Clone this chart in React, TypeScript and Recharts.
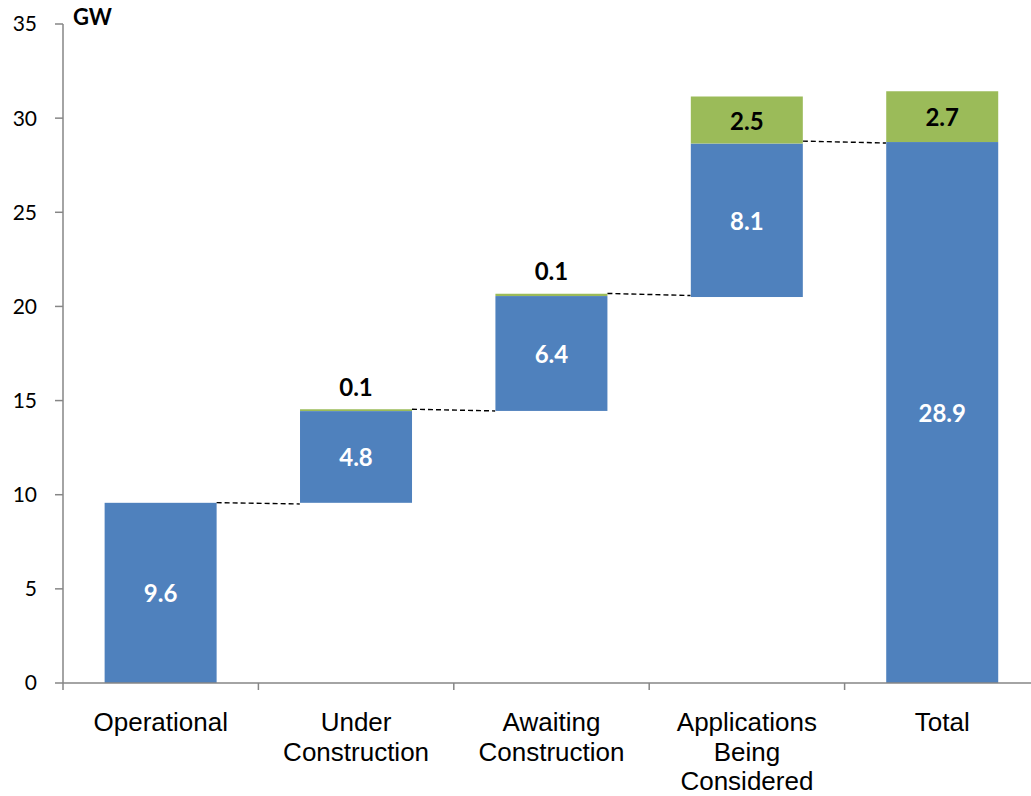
import React from "react";
import { ComposedChart, Bar, XAxis, YAxis, LabelList } from "recharts";

const categories = ["Operational", "Under Construction", "Awaiting Construction", "Applications Being Considered", "Total"];
const categoryLines = [["Operational"], ["Under", "Construction"], ["Awaiting", "Construction"], ["Applications", "Being", "Considered"], ["Total"]];
const baseValues = [0, 9.57, 14.45, 20.5, 0];
const blueValues = [9.57, 4.87, 6.1, 8.15, 28.73];
const greenValues = [0, 0.1, 0.12, 2.5, 2.7];
const blueLabels = ["9.6", "4.8", "6.4", "8.1", "28.9"];
const greenLabels = ["", "0.1", "0.1", "2.5", "2.7"];
const connectorFrom = [9.58, 14.54, 20.69, 28.78];
const connectorTo = [9.51, 14.45, 20.58, 28.68];
const yTicks = [0, 5, 10, 15, 20, 25, 30, 35];

const data = categories.map((c, i) => ({
  name: c,
  base: baseValues[i],
  blue: blueValues[i],
  green: greenValues[i],
  blueLabel: blueLabels[i],
  greenLabel: greenLabels[i],
}));

const GAP = 0.213;
const BLUE = "#4F81BD";
const GREEN = "#9BBB59";
const AXIS = "#868686";

const BlueShape = (props: any) => {
  const { x, y, width, height, index, payload } = props;
  const ppu = height / payload.blue;
  const zero = y + height + payload.base * ppu;
  const gap = (width * 2 * GAP) / (1 - 2 * GAP);
  return (
    <g>
      <rect x={x} y={y} width={width} height={height} fill={BLUE} />
      {index < connectorFrom.length && (
        <line
          x1={x + width}
          y1={zero - connectorFrom[index] * ppu}
          x2={x + width + gap}
          y2={zero - connectorTo[index] * ppu}
          stroke="#000"
          strokeWidth={1.4}
          strokeDasharray="5 3"
        />
      )}
    </g>
  );
};

const BlueLabel = (props: any) => {
  const { x, y, width, height, value } = props;
  if (!value) return null;
  return (
    <text
      x={x + width / 2}
      y={y + height / 2}
      textAnchor="middle"
      dominantBaseline="central"
      fill="#fff"
      fontFamily="Lato"
      fontWeight="bold"
      fontSize={24}
    >
      {value}
    </text>
  );
};

const GreenLabel = (props: any) => {
  const { x, y, width, height, value } = props;
  if (!value) return null;
  const cy = height < 20 ? y - 23 : y + height / 2;
  return (
    <text
      x={x + width / 2}
      y={cy}
      textAnchor="middle"
      dominantBaseline="central"
      fill="#000"
      fontFamily="Lato"
      fontWeight="bold"
      fontSize={24}
    >
      {value}
    </text>
  );
};

const XTick = (props: any) => {
  const { x, y, payload, index } = props;
  const off = payload && payload.offset ? payload.offset : 0;
  const lines = categoryLines[index] || [];
  return (
    <g>
      <line x1={x - off} y1={y} x2={x - off} y2={y + 7} stroke={AXIS} strokeWidth={1.5} />
      {index === categories.length - 1 && (
        <line x1={x + off} y1={y} x2={x + off} y2={y + 7} stroke={AXIS} strokeWidth={1.5} />
      )}
      <text textAnchor="middle" fontFamily="Liberation Sans" fontSize={26} fill="#000">
        {lines.map((l, i) => (
          <tspan key={i} x={x} y={y + 48 + i * 29.5}>
            {l}
          </tspan>
        ))}
      </text>
    </g>
  );
};

export default function App() {
  return (
    <div style={{ position: "fixed", left: 0, top: 0, width: 1031, height: 796, overflow: "hidden", background: "#fff" }}>
      <ComposedChart
        width={1050}
        height={796}
        data={data}
        margin={{ top: 24, right: 10, bottom: 0, left: 0 }}
        barCategoryGap={`${GAP * 100}%`}
      >
        <XAxis
          dataKey="name"
          interval={0}
          height={113}
          tickSize={0}
          tickMargin={0}
          tickLine={false}
          axisLine={{ stroke: AXIS, strokeWidth: 1.5 }}
          tick={<XTick />}
        />
        <YAxis
          width={63}
          domain={[0, 35]}
          ticks={yTicks}
          interval={0}
          tickSize={8}
          tickMargin={18}
          axisLine={{ stroke: AXIS, strokeWidth: 1.5 }}
          tickLine={{ stroke: AXIS, strokeWidth: 1.5 }}
          tick={{ fontFamily: "Lato", fontSize: 21, fill: "#000" }}
        />
        <Bar dataKey="base" stackId="a" fill="transparent" isAnimationActive={false} />
        <Bar dataKey="blue" stackId="a" fill={BLUE} shape={<BlueShape />} isAnimationActive={false}>
          <LabelList dataKey="blueLabel" content={<BlueLabel />} />
        </Bar>
        <Bar dataKey="green" stackId="a" fill={GREEN} isAnimationActive={false}>
          <LabelList dataKey="greenLabel" content={<GreenLabel />} />
        </Bar>
      </ComposedChart>
      <div
        style={{
          position: "absolute",
          left: 73,
          top: 4,
          fontFamily: "Lato",
          fontWeight: "bold",
          fontSize: 22,
          lineHeight: "26px",
          color: "#000",
        }}
      >
        GW
      </div>
    </div>
  );
}
